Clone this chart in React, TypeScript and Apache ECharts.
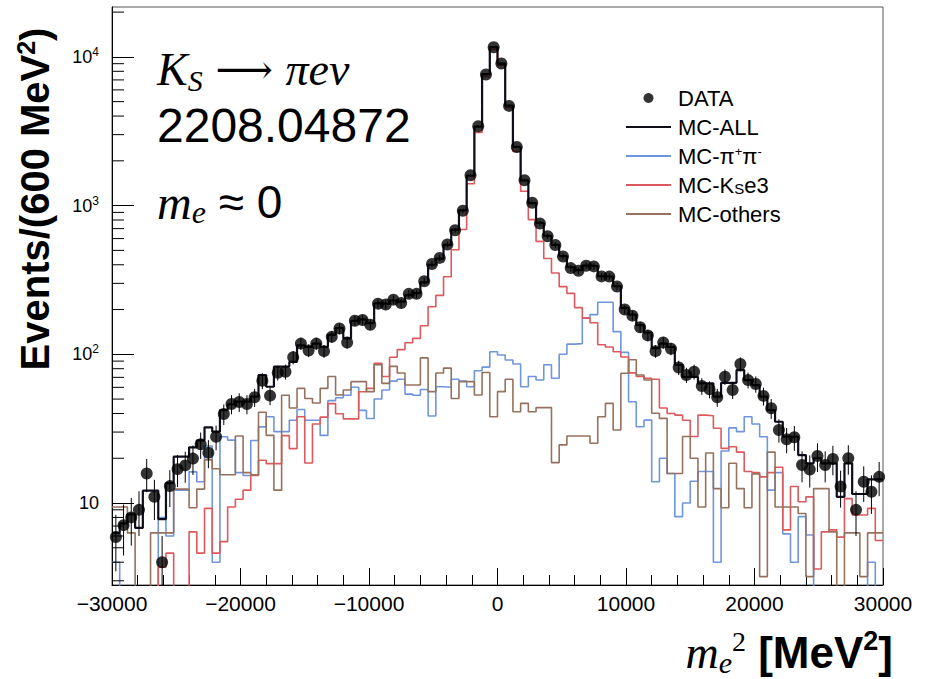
import React, { useEffect, useRef } from "react";
import * as echarts from "echarts";

const X_MIN = -30000;
const X_MAX = 30000;
const BIN_WIDTH = 600;
const X_TICK_INTERVAL = 10000;
const Y_MIN = 2.81;
const Y_MAX = 21650;
const EMPTY_FLOOR = 1;

const dataCounts = [
  5.9, 7.1, 8.0, 9.0, 15.8, 11, 4.0, 13, 16.9, 17.9,
  19.9, 24.8, 21.8, 27.9, 39.7, 46.3, 47.8, 46.3, 51.4, 66.4,
  52.7, 75.2, 76.4, 95.5, 118, 106, 118, 105, 131, 149,
  120, 168, 170, 158, 219, 216, 233, 221, 255, 255,
  310, 405, 445, 547, 683, 923, 1600, 3420, 7620, 11600,
  9020, 4680, 2480, 1480, 1045, 758, 622, 543, 455, 380,
  364, 394, 390, 334, 333, 286, 200, 182, 152, 134,
  105, 120, 109, 81.5, 72.6, 76.4, 61.2, 58.2, 51.4, 70.7,
  57.6, 86.1, 67.1, 63.1, 52.5, 43.4, 31, 26.8, 27.7, 18,
  16.8, 20.7, 18, 19.8, 12.9, 20, 9.0, 13.9, 11.9, 15,
];

const mcAll = [
  6.3, 7.3, 8.4, 6.8, 12.1, 12.1, 7.8, 13.6, 20.5, 20.5,
  23.7, 26.4, 32.3, 30.2, 42.2, 46, 48, 48, 52, 72.6,
  60.5, 82.6, 83, 89, 115, 112, 118, 112, 135, 150,
  128, 168, 172, 162, 220, 218, 230, 226, 250, 258,
  305, 400, 440, 545, 690, 930, 1590, 3400, 7650, 11650,
  9000, 4700, 2480, 1480, 1040, 765, 625, 545, 458, 385,
  368, 395, 392, 335, 333, 287, 205, 185, 157, 140,
  110, 118, 112, 85, 70.6, 70.6, 63.8, 63.8, 51.9, 64.3,
  64.3, 78.3, 67.1, 62, 51.9, 42.2, 35.2, 27.9, 27.9, 21,
  18.5, 20, 18.5, 18.5, 11, 18.5, 11.5, 11.5, 14.4, 14.4,
];

const mcPiPi = [
  4.0, 0, 0, 0, 0, 0, 8, 6, 12.2, 12.2,
  16.2, 13.9, 24.2, 4.0, 27.9, 26.5, 16, 15.3, 26.3, 32.5,
  38, 30.2, 30.2, 36, 42.5, 36, 36, 28.5, 48.8, 51,
  53, 60, 42, 37, 50, 57.5, 66, 68, 54, 53,
  58, 38.5, 60.5, 60, 68, 66, 60.5, 77.5, 82, 104,
  99, 91.5, 86, 60.5, 71, 67.2, 85, 69, 100, 117,
  118, 175, 185, 224, 224, 142, 103, 48, 32.6, 36.1,
  13.9, 20, 15.8, 8.1, 10, 14, 16.3, 16.3, 4.0, 22.4,
  32, 30.2, 38, 34, 27.9, 12.2, 16, 6.2, 4.0, 8.1,
  6.1, 0, 0, 0, 0, 0, 0, 0, 4.0, 0,
];

const mcKse3 = [
  0, 0, 0, 0, 0, 0, 3.7, 4.6, 0, 0,
  6.4, 4.6, 9.2, 4.6, 5.5, 9.4, 10.6, 12.2, 15.3, 19.4,
  18.4, 18.4, 28.4, 23.2, 38, 18.6, 34, 37.8, 46.6, 39.8,
  36.8, 36.8, 56, 59, 87, 71, 95.5, 107.6, 119.6, 128,
  155.6, 209, 249, 332, 505, 690, 1403, 3100, 7400, 11300,
  8800, 4550, 2310, 1250, 805, 575, 441, 352, 285, 257,
  206, 175, 163, 116, 112, 104, 96, 75, 71, 69,
  68, 43.5, 40, 39, 36, 28, 39, 38.6, 31.8, 23.3,
  23.9, 22, 16.3, 16, 15, 16, 17.4, 6.6, 12.9, 10.2,
  11, 3.6, 6.4, 6.6, 5.9, 10.7, 8.3, 8.3, 9.2, 5.6,
];

const mcOthers = [
  9.4, 9.4, 6.3, 0, 0, 6.3, 6.3, 6.3, 12.4, 12.4,
  9.3, 12.4, 19.5, 17, 15.5, 15.5, 28.2, 16, 15.5, 40.8,
  28.5, 12.2, 53, 43.5, 59, 50.5, 47, 59, 71, 53.2,
  57.5, 65.5, 65.5, 56.1, 85, 63.8, 83, 74.8, 62.2, 62.2,
  94.6, 56.1, 74.8, 80.8, 50.5, 65.5, 65.5, 53.2, 75.5, 38,
  56.1, 68, 41.1, 46.8, 41.1, 43.8, 43.8, 18.7, 24.6, 28.2,
  28.2, 28.2, 25.2, 38, 46.8, 31, 74.5, 92, 72.6, 67.2,
  40.1, 37.1, 15.8, 15.8, 28, 20, 9.4, 21.7, 12.5, 9.3,
  18.5, 12.5, 9.3, 15.7, 3.2, 22, 9.4, 9.4, 9.4, 8.5,
  3.2, 12.5, 12.5, 6.4, 0, 6.3, 6.3, 3.2, 6.3, 6.3,
];

const yMinorTicks = [
  3, 4, 5, 6, 7, 8, 9,
  20, 30, 40, 50, 60, 70, 80, 90,
  200, 300, 400, 500, 600, 700, 800, 900,
  2000, 3000, 4000, 5000, 6000, 7000, 8000, 9000,
  20000,
];

const SERIES = {
  data: "DATA",
  all: "MC-ALL",
  pipi: "MC-pipi",
  kse3: "MC-KSe3",
  others: "MC-others",
};

const COLORS = {
  all: "#0d0d1c",
  pipi: "#6f96dc",
  kse3: "#dc5a5d",
  others: "#96715e",
};

const SANS = "Liberation Sans";
const SERIF = "Liberation Serif";

function stepData(values: number[]) {
  const pts = values.map((v, i) => [X_MIN + i * BIN_WIDTH, v > 0 ? v : EMPTY_FLOOR]);
  const last = values[values.length - 1];
  pts.push([X_MIN + values.length * BIN_WIDTH, last > 0 ? last : EMPTY_FLOOR]);
  return pts;
}

function centers(values: number[]) {
  return values.map((v, i) => [X_MIN + (i + 0.5) * BIN_WIDTH, v]);
}

function stepSeries(name: string, values: number[], color: string, width: number, z: number) {
  return {
    name,
    type: "line",
    step: "end",
    data: stepData(values),
    symbol: "none",
    showSymbol: false,
    clip: true,
    lineStyle: { color, width },
    itemStyle: { color },
    z,
    silent: true,
  };
}

const legendLabels: Record<string, string> = {
  [SERIES.data]: "{t|DATA}",
  [SERIES.all]: "{t|MC-ALL}",
  [SERIES.pipi]: "{t|MC-π}{sup|+}{t|π}{sup|-}",
  [SERIES.kse3]: "{t|MC-K}{sub|S}{t|e3}",
  [SERIES.others]: "{t|MC-others}",
};

const hiddenSymbol = { opacity: 0, color: "rgba(0,0,0,0)", borderWidth: 0 };

function buildOption() {
  return {
    animation: false,
    backgroundColor: "#ffffff",
    grid: {
      left: 112,
      right: 49,
      top: 7,
      bottom: 94,
      show: true,
      borderColor: "#555",
      borderWidth: 1,
      containLabel: false,
      outerBoundsMode: "none",
    },
    xAxis: {
      type: "value",
      min: X_MIN,
      max: X_MAX,
      interval: X_TICK_INTERVAL,
      axisLine: { show: true, onZero: false, lineStyle: { color: "#000", width: 1 } },
      axisTick: { show: true, inside: true, length: 17, lineStyle: { color: "#000", width: 1 } },
      minorTick: { show: true, splitNumber: 5, length: 10, lineStyle: { color: "#000", width: 1 } },
      splitLine: { show: false },
      minorSplitLine: { show: false },
      axisLabel: {
        fontSize: 21,
        fontFamily: SANS,
        color: "#000",
        margin: 8,
        formatter: (v: number) => (v < 0 ? "\u2212" + Math.abs(v) : String(v)),
      },
    },
    yAxis: {
      type: "log",
      logBase: 10,
      min: Y_MIN,
      max: Y_MAX,
      axisLine: { show: true, onZero: false, lineStyle: { color: "#000", width: 1 } },
      axisTick: { show: true, inside: true, length: 22, lineStyle: { color: "#000", width: 1 } },
      splitLine: { show: false },
      axisLabel: {
        showMinLabel: false,
        showMaxLabel: false,
        fontSize: 18,
        fontFamily: SANS,
        color: "#000",
        margin: 13,
        lineHeight: 22,
        formatter: (v: number) => {
          const p = Math.round(Math.log10(v));
          return p === 1 ? "{b|10}" : `{b|10}{sup|${p}}`;
        },
        rich: {
          b: { fontSize: 18, fontFamily: SANS, color: "#000", lineHeight: 22 },
          sup: { fontSize: 12, fontFamily: SANS, color: "#000", lineHeight: 10, verticalAlign: "top" },
        },
      },
    },
    legend: {
      show: true,
      orient: "vertical",
      left: 620,
      top: 82,
      itemWidth: 45,
      itemHeight: 10,
      itemGap: 7,
      selectedMode: false,
      data: [
        { name: SERIES.data, icon: "circle" },
        { name: SERIES.all, itemStyle: hiddenSymbol },
        { name: SERIES.pipi, itemStyle: hiddenSymbol },
        { name: SERIES.kse3, itemStyle: hiddenSymbol },
        { name: SERIES.others, itemStyle: hiddenSymbol },
      ],
      formatter: (name: string) => legendLabels[name] || name,
      textStyle: {
        fontSize: 22,
        fontFamily: SANS,
        color: "#000",
        lineHeight: 22,
        padding: [0, 0, 0, 2],
        rich: {
          t: { fontSize: 22, fontFamily: SANS, color: "#000", lineHeight: 22 },
          sup: { fontSize: 13, fontFamily: SANS, color: "#000", lineHeight: 12, verticalAlign: "top" },
          sub: { fontSize: 15, fontFamily: SANS, color: "#000", lineHeight: 6, verticalAlign: "bottom" },
        },
      },
    },
    graphic: [
      {
        type: "text",
        x: 157,
        y: 69,
        silent: true,
        style: {
          text: "{i|K}{s|S}{n| \u27f6 }{i|\u03c0e\u03bd}",
          verticalAlign: "middle",
          align: "left",
          rich: {
            i: { fontSize: 46, fontFamily: SERIF, fontStyle: "italic", fill: "#000", lineHeight: 52 },
            s: { fontSize: 30, fontFamily: SERIF, fontStyle: "italic", fill: "#000", lineHeight: 24, verticalAlign: "bottom" },
            n: { fontSize: 40, fontFamily: "DejaVu Serif", fill: "#000", lineHeight: 52 },
          },
        },
      },
      {
        type: "text",
        x: 157,
        y: 125,
        silent: true,
        style: {
          text: "2208.04872",
          fontSize: 48,
          fontFamily: SANS,
          fill: "#000",
          verticalAlign: "middle",
          align: "left",
        },
      },
      {
        type: "text",
        x: 157,
        y: 202,
        silent: true,
        style: {
          text: "{i|m}{s|e}{n| \u2248 0}",
          verticalAlign: "middle",
          align: "left",
          rich: {
            i: { fontSize: 48, fontFamily: SERIF, fontStyle: "italic", fill: "#000", lineHeight: 52 },
            s: { fontSize: 32, fontFamily: SERIF, fontStyle: "italic", fill: "#000", lineHeight: 22, verticalAlign: "bottom" },
            n: { fontSize: 46, fontFamily: SANS, fill: "#000", lineHeight: 52 },
          },
        },
      },
      {
        type: "text",
        x: 893,
        y: 652,
        silent: true,
        style: {
          text: "{i|m}{s|e}{p|2}{b| [MeV}{bp|2}{b|]}",
          verticalAlign: "middle",
          align: "right",
          rich: {
            i: { fontSize: 46, fontFamily: SERIF, fontStyle: "italic", fill: "#000", lineHeight: 50 },
            s: { fontSize: 30, fontFamily: SERIF, fontStyle: "italic", fill: "#000", lineHeight: 22, verticalAlign: "bottom" },
            p: { fontSize: 28, fontFamily: SERIF, fill: "#000", lineHeight: 22, verticalAlign: "top" },
            b: { fontSize: 44, fontFamily: SANS, fontWeight: "bold", fill: "#000", lineHeight: 50 },
            bp: { fontSize: 27, fontFamily: SANS, fontWeight: "bold", fill: "#000", lineHeight: 24, verticalAlign: "top" },
          },
        },
      },
      {
        type: "text",
        x: 35,
        y: 199,
        rotation: Math.PI / 2,
        silent: true,
        style: {
          text: "{b|Events/(600 MeV}{p|2}{b|)}",
          align: "center",
          verticalAlign: "middle",
          rich: {
            b: { fontSize: 40, fontFamily: SANS, fontWeight: "bold", fill: "#000", lineHeight: 44 },
            p: { fontSize: 25, fontFamily: SANS, fontWeight: "bold", fill: "#000", lineHeight: 22, verticalAlign: "top" },
          },
        },
      },
    ],
    series: [
      stepSeries(SERIES.pipi, mcPiPi, COLORS.pipi, 1.6, 2),
      stepSeries(SERIES.kse3, mcKse3, COLORS.kse3, 1.6, 2),
      stepSeries(SERIES.others, mcOthers, COLORS.others, 1.6, 2),
      stepSeries(SERIES.all, mcAll, COLORS.all, 2.2, 3),
      {
        name: "errors",
        type: "custom",
        clip: true,
        silent: true,
        z: 4,
        data: centers(dataCounts),
        renderItem: (_params: any, api: any) => {
          const x = api.value(0);
          const v = api.value(1);
          const e = Math.sqrt(v);
          const top = api.coord([x, v + e]);
          const bot = api.coord([x, Math.max(v - e, 0.01)]);
          return {
            type: "line",
            shape: { x1: top[0], y1: top[1], x2: bot[0], y2: bot[1] },
            style: { stroke: "#000", lineWidth: 1 },
          };
        },
      },
      {
        name: SERIES.data,
        type: "scatter",
        data: centers(dataCounts),
        symbol: "circle",
        symbolSize: 12,
        itemStyle: { color: "#000" },
        z: 5,
        silent: true,
      },
      {
        name: "yMinorTicks",
        type: "custom",
        silent: true,
        z: 6,
        data: yMinorTicks.map((v) => [X_MIN, v]),
        renderItem: (_params: any, api: any) => {
          const p = api.coord([api.value(0), api.value(1)]);
          return {
            type: "line",
            shape: { x1: p[0], y1: p[1], x2: p[0] + 12, y2: p[1] },
            style: { stroke: "#000", lineWidth: 1 },
          };
        },
      },
    ],
  };
}

export default function App() {
  const ref = useRef<HTMLDivElement>(null);
  useEffect(() => {
    if (!ref.current) return;
    const chart = echarts.init(ref.current, null, { renderer: "svg" });
    chart.setOption(buildOption() as any);
    return () => {
      chart.dispose();
    };
  }, []);
  return (
    <div
      ref={ref}
      style={{ position: "absolute", left: 0, top: 0, width: 932, height: 679, background: "#fff" }}
    />
  );
}
